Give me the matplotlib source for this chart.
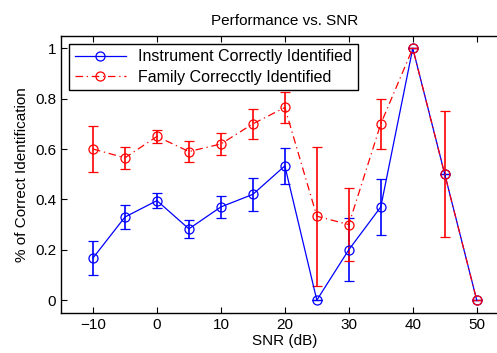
import matplotlib
matplotlib.use('Agg')
import matplotlib.pyplot as plt

plt.rcParams['font.family'] = ['Liberation Sans', 'DejaVu Sans']

snr = [-10, -5, 0, 5, 10, 15, 20, 25, 30, 35, 40, 45, 50]
instrument = [0.167, 0.33, 0.395, 0.283, 0.37, 0.42, 0.533, 0.0, 0.2, 0.37, 1.0, 0.5, 0.0]
instrument_err = [0.068, 0.047, 0.03, 0.035, 0.045, 0.065, 0.07, 0.0, 0.125, 0.11, 0.0, 0.0, 0.0]
family = [0.6, 0.565, 0.65, 0.59, 0.62, 0.70, 0.765, 0.333, 0.30, 0.70, 1.0, 0.5, 0.0]
family_err = [0.09, 0.045, 0.025, 0.04, 0.045, 0.06, 0.06, 0.275, 0.145, 0.10, 0.0, 0.25, 0.0]

fig = plt.figure(figsize=(4.97, 3.53), dpi=100)
ax = fig.add_axes([61 / 497, 40.3 / 353, 447.7 / 497, 277 / 353])

ax.errorbar(snr, instrument, yerr=instrument_err, color='blue', linestyle='-',
            linewidth=0.9, marker='o', markersize=6.5, markerfacecolor='none',
            markeredgewidth=0.9, capsize=3.5, elinewidth=1.2, capthick=1.2,
            label='Instrument Correctly Identified')
ax.errorbar(snr, family, yerr=family_err, color='red', linestyle=(0, (6, 3, 1, 3)),
            linewidth=0.9, marker='o', markersize=6.5, markerfacecolor='none',
            markeredgewidth=0.9, capsize=3.5, elinewidth=1.2, capthick=1.2,
            label='Family Correcctly Identified')

ax.set_xlim(-15, 55)
ax.set_ylim(-0.05, 1.05)
ax.set_xticks([-10, 0, 10, 20, 30, 40, 50])
ax.set_xticklabels(['\u221210', '0', '10', '20', '30', '40', '50'])
ax.set_yticks([0, 0.2, 0.4, 0.6, 0.8, 1])
ax.set_yticklabels(['0', '0.2', '0.4', '0.6', '0.8', '1'])
ax.tick_params(direction='in', top=True, right=True, labelsize=11, length=4, width=0.8)
for s in ax.spines.values():
    s.set_linewidth(1.0)

ax.set_title('Performance vs. SNR', fontsize=11, pad=8)
ax.set_xlabel('SNR (dB)', fontsize=11, labelpad=2)
ax.set_ylabel('% of Correct Identification', fontsize=11)

handles, labels = ax.get_legend_handles_labels()
handles = [h[0] for h in handles]
leg = ax.legend(handles, labels, loc='upper left', fontsize=11.5, fancybox=False,
                edgecolor='black', framealpha=1, borderpad=0.35, handlelength=3.2,
                labelspacing=0.35, bbox_to_anchor=(0.0, 1.0),
                borderaxespad=0.5)
leg.get_frame().set_linewidth(1.0)

fig.savefig('out.png', dpi=100)
